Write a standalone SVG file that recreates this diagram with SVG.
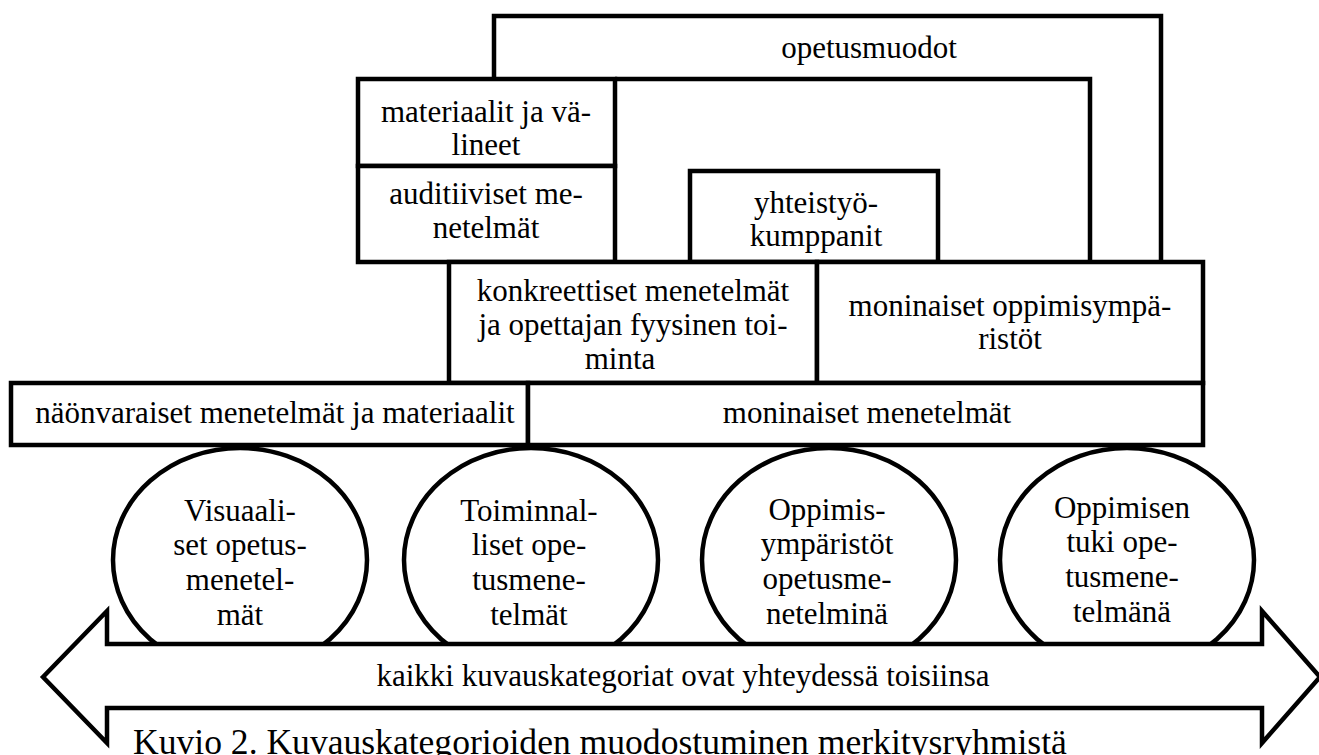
<svg xmlns="http://www.w3.org/2000/svg" width="1319" height="755" viewBox="0 0 1319 755">
<style>
.b{fill:#fff;stroke:#000;stroke-width:4.5}
.c{fill:none;stroke:#000;stroke-width:4.5}
text{font-family:"Liberation Serif","Times New Roman",serif;font-size:31px;fill:#000;text-anchor:middle}
.cap{font-size:35.6px;text-anchor:start}
</style>
<rect width="1319" height="755" fill="#fff"/>
<g id="connectors">
<path class="c" d="M494,79 V16 H1161 V262"/>
<path class="c" d="M615,79 H1090 V262"/>
</g>
<g id="opetusmuodot"><text x="869" y="58">opetusmuodot</text></g>
<g id="materiaalit">
<rect class="b" x="358" y="79" width="257" height="87"/>
<text x="486" y="122">materiaalit ja vä-</text>
<text x="486" y="155">lineet</text>
</g>
<g id="auditiiviset">
<rect class="b" x="358" y="166" width="257" height="96"/>
<text x="486" y="204">auditiiviset me-</text>
<text x="486" y="238">netelmät</text>
</g>
<g id="yhteistyo">
<rect class="b" x="690" y="171" width="248" height="91"/>
<text x="816" y="213">yhteistyö-</text>
<text x="816" y="246">kumppanit</text>
</g>
<g id="konkreettiset">
<rect class="b" x="449" y="262" width="368" height="121"/>
<text x="633" y="301">konkreettiset menetelmät</text>
<text x="633" y="335">ja opettajan fyysinen toi-</text>
<text x="620" y="369">minta</text>
</g>
<g id="oppimisymparistot">
<rect class="b" x="817" y="262" width="386" height="121"/>
<text x="1010" y="316">moninaiset oppimisympä-</text>
<text x="1010" y="349">ristöt</text>
</g>
<g id="naonvaraiset">
<rect class="b" x="11" y="383" width="517" height="62"/>
<text x="275" y="423">näönvaraiset menetelmät ja materiaalit</text>
</g>
<g id="moninaiset-menetelmat">
<rect class="b" x="528" y="383" width="675" height="62"/>
<text x="867" y="423">moninaiset menetelmät</text>
</g>
<g id="visuaaliset">
<ellipse class="b" cx="240" cy="560" rx="127" ry="112"/>
<text x="240" y="521">Visuaali-</text>
<text x="240" y="555">set opetus-</text>
<text x="240" y="590">menetel-</text>
<text x="240" y="625">mät</text>
</g>
<g id="toiminnalliset">
<ellipse class="b" cx="531" cy="560" rx="127" ry="112"/>
<text x="529" y="521">Toiminnal-</text>
<text x="529" y="555">liset ope-</text>
<text x="529" y="590">tusmene-</text>
<text x="529" y="625">telmät</text>
</g>
<g id="oppimisymparistot-ellipse">
<ellipse class="b" cx="829" cy="560" rx="127" ry="112"/>
<text x="827" y="520">Oppimis-</text>
<text x="827" y="554">ympäristöt</text>
<text x="827" y="589">opetusme-</text>
<text x="827" y="624">netelminä</text>
</g>
<g id="oppimisen-tuki">
<ellipse class="b" cx="1127" cy="560" rx="127" ry="112"/>
<text x="1122" y="518">Oppimisen</text>
<text x="1122" y="552">tuki ope-</text>
<text x="1122" y="587">tusmene-</text>
<text x="1122" y="622">telmänä</text>
</g>
<g id="arrow">
<polygon class="b" points="43,677 107,611 107,644 1262,644 1262,611 1320,677 1262,743 1262,708 107,708 107,743"/>
<text x="683" y="686">kaikki kuvauskategoriat ovat yhteydessä toisiinsa</text>
</g>
<g id="caption"><text class="cap" x="133" y="754">Kuvio 2. Kuvauskategorioiden muodostuminen merkitysryhmistä</text></g>
</svg>
